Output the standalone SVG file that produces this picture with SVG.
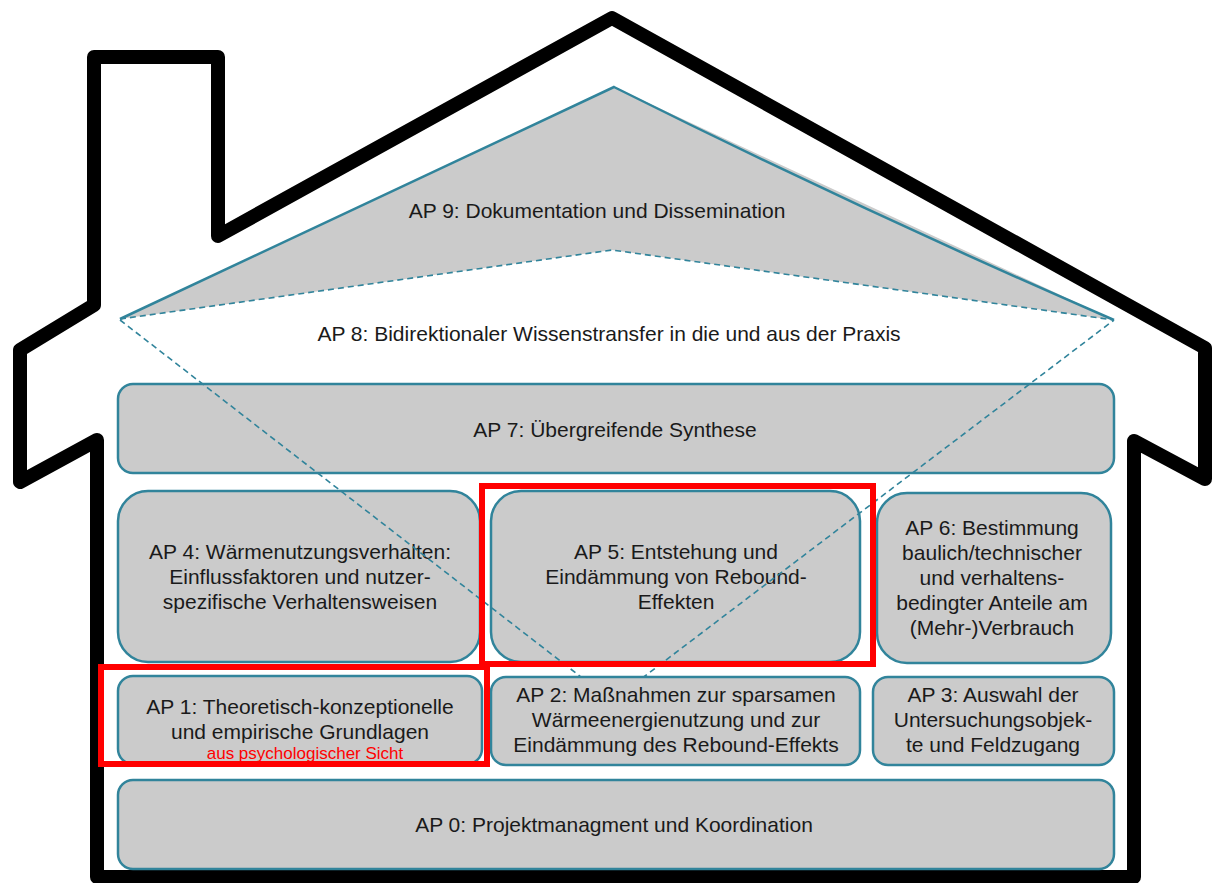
<svg xmlns="http://www.w3.org/2000/svg" width="1215" height="883" viewBox="0 0 1215 883">
<style>
.box{fill:#CBCBCB;stroke:#31849B;stroke-width:2.5}
.t{font-family:"Liberation Sans",Arial,sans-serif;font-size:21px;fill:#1a1a1a;text-anchor:middle}
.red{fill:none;stroke:#FF0000;stroke-width:6}
.dash{fill:none;stroke:#31849B;stroke-width:1.6;stroke-dasharray:6 4}
</style>
<rect width="1215" height="883" fill="#ffffff"/>
<g id="house">
<path d="M97 877 L97 440 L20 482 L20 350 L94 305 L94 57 L218 57 L218 236 L612 18 L1205 348 L1205 479 L1134 441 L1134 877 Z" fill="none" stroke="#000" stroke-width="14" stroke-linejoin="round"/>
</g>
<g id="ap9">
<polygon points="120,319 614,87 1114,320 612,250" fill="#CBCBCB"/>
<path d="M120 319 L614 87 Q860 210 1114 320" fill="none" stroke="#31849B" stroke-width="2.5"/>
<text class="t" x="597" y="218">AP 9: Dokumentation und Dissemination</text>
</g>
<g id="ap8">
<text class="t" x="609" y="341">AP 8: Bidirektionaler Wissenstransfer in die und aus der Praxis</text>
</g>
<g id="ap7">
<rect class="box" x="118" y="384" width="996" height="89" rx="15"/>
<text class="t" x="615" y="437">AP 7: Übergreifende Synthese</text>
</g>
<g id="ap4">
<rect class="box" x="118" y="491" width="362" height="171" rx="30"/>
<text class="t" x="300" y="559">AP 4: Wärmenutzungsverhalten:</text>
<text class="t" x="300" y="584">Einflussfaktoren und nutzer-</text>
<text class="t" x="300" y="609">spezifische Verhaltensweisen</text>
</g>
<g id="ap5">
<rect class="box" x="491" y="491" width="369" height="171" rx="30"/>
<text class="t" x="676" y="559">AP 5: Entstehung und</text>
<text class="t" x="676" y="584">Eindämmung von Rebound-</text>
<text class="t" x="676" y="609">Effekten</text>
</g>
<g id="ap6">
<rect class="box" x="877" y="493" width="234" height="170" rx="30"/>
<text class="t" x="992" y="535">AP 6: Bestimmung</text>
<text class="t" x="992" y="560">baulich/technischer</text>
<text class="t" x="992" y="585">und verhaltens-</text>
<text class="t" x="992" y="610">bedingter Anteile am</text>
<text class="t" x="992" y="635">(Mehr-)Verbrauch</text>
</g>
<g id="connectors">
<path class="dash" d="M120 319 L612 250 L1114 320"/>
<path class="dash" d="M120 320 L612 701 L1114 320"/>
</g>
<g id="ap1">
<rect class="box" x="118" y="676" width="364" height="88" rx="15"/>
<text class="t" x="300" y="714">AP 1: Theoretisch-konzeptionelle</text>
<text class="t" x="300" y="739">und empirische Grundlagen</text>
<text x="305" y="759" font-family="Liberation Sans, Arial, sans-serif" font-size="17" fill="#FF0000" text-anchor="middle">aus psychologischer Sicht</text>
</g>
<g id="ap2">
<rect class="box" x="491" y="677" width="369" height="88" rx="15"/>
<text class="t" x="676" y="702">AP 2: Maßnahmen zur sparsamen</text>
<text class="t" x="676" y="727">Wärmeenergienutzung und zur</text>
<text class="t" x="676" y="752">Eindämmung des Rebound-Effekts</text>
</g>
<g id="ap3">
<rect class="box" x="873" y="677" width="241" height="88" rx="15"/>
<text class="t" x="993" y="702">AP 3: Auswahl der</text>
<text class="t" x="993" y="727">Untersuchungsobjek-</text>
<text class="t" x="993" y="752">te und Feldzugang</text>
</g>
<g id="ap0">
<rect class="box" x="118" y="780" width="996" height="89" rx="15"/>
<text class="t" x="614" y="832">AP 0: Projektmanagment und Koordination</text>
</g>
<g id="highlights">
<rect class="red" x="482" y="486" width="391" height="178"/>
<rect class="red" x="101" y="667" width="386" height="97"/>
</g>
</svg>
